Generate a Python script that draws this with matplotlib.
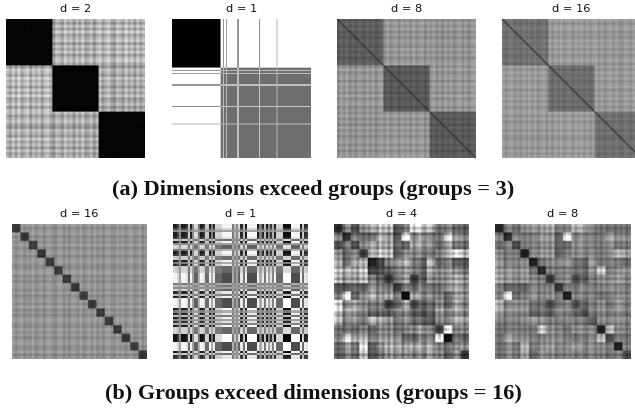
# Group similarity matrices, d = embedding size
import numpy as np
import matplotlib
matplotlib.use('Agg')
import matplotlib.pyplot as plt

# 3 groups, block levels (0 black - 255 white)
top_d2_blocks = [[5, 172, 178], [178, 5, 168], [172, 168, 5]]
top_d8_blocks = [[92, 148, 145], [148, 88, 148], [145, 148, 88]]
top_d16_blocks = [[112, 152, 150], [152, 108, 152], [150, 152, 110]]
top_d8_diag = 45
top_d16_diag = 40

# plaid stripes along the rows
top_d2_stripes = [.05, -.12, .1, -.08, .14, -.1, .02, .12, -.14, .08, -.05, .1, -.12, .06, .12, -.06,
                  -.14, .1, .04, -.1, .14, -.02, .08, -.12, .1, -.06, .14, -.1, -.03, .1, -.14, .06,
                  .1, -.1, .04, .12, -.08, -.14, .1, .02, -.1, .14, -.05, .08, -.12, .1, -.08, .04]
top_d8_stripes = [-.06, .07, -.03, .08, -.07, .04, -.08, .06, .01, -.07, .08, -.04, .06, -.08, .03, .07,
                  -.05, .08, -.07, .02, .06, -.08, .07, -.03, .05, -.07, .08, -.06, .03, .07, -.08, .04,
                  -.02, .08, -.06, .05, -.08, .07, -.04, .06, -.07, .03, .08, -.05, .06, -.08, .04, .07]
top_d16_stripes = [.05, -.06, .03, .06, -.05, .02, -.06, .05, -.02, .06, -.04, .05, -.06, .01, .06, -.05,
                   .04, -.06, .05, -.03, .06, -.05, .02, .05, -.06, .04, -.02, .06, -.05, .05, -.06, .03,
                   .06, -.04, .05, -.06, .02, .05, -.05, .06, -.03, -.06, .05, .02, -.05, .06, -.04, .05]

# 1-d embeddings, the d = 1 matrices are their outer products
top_d1_embed = [1.0] * 33 + [.3, -.61, .15, -.61, .1] + [-.61] * 7 + [.15] + [-.61] * 14 + [.2] \
    + [-.61] * 11 + [-.25] + [-.61] * 23
bot_d1_embed = [.9, .9, .6, .1, .9, .9, .7, -.4, .9, .1, -.5, -.5, .3, .9, .7, -.4,
                -.4, .9, .2, .8, -.45, -.45, -.45, -.7, -.7, -.7, -.7, -.7, .2, -.3, .1, -.5,
                .8, -.3, .9, -.7, -.7, -.7, -.7, -.7, .9, .2, .8, -.3, .9, .1, .7, -.2,
                .9, -.45, -.45, -.45, 1.0, 1.0, 1.0, 1.0, -.7, -.7, -.7, -.7, .9, -.4, .8, .7]

# 16 groups, upper triangle of the block levels
bot_d16_diag = [55, 50, 60, 50, 55, 55, 60, 50, 60, 55, 60, 55, 55, 55, 60, 55]
bot_d16_off = 145
bot_d4_upper = [
    [40, 120, 80, 130, 165, 180, 175, 80, 120, 210, 190, 180, 100, 120, 100, 90],
    [40, 120, 90, 100, 160, 140, 75, 235, 120, 140, 120, 100, 195, 140, 120],
    [85, 130, 170, 170, 160, 100, 105, 160, 160, 150, 100, 160, 120, 110],
    [50, 160, 180, 170, 80, 130, 120, 120, 110, 110, 160, 220, 170],
    [30, 65, 120, 140, 180, 120, 100, 180, 90, 120, 90, 80],
    [75, 90, 120, 150, 120, 100, 160, 120, 140, 140, 110],
    [50, 110, 160, 55, 90, 140, 120, 140, 170, 140],
    [55, 120, 90, 120, 110, 100, 130, 160, 130],
    [15, 160, 140, 140, 120, 100, 160, 140],
    [65, 90, 100, 120, 90, 160, 120],
    [85, 100, 140, 120, 160, 130],
    [85, 120, 120, 170, 150],
    [55, 220, 120, 120],
    [15, 110, 90],
    [140, 140],
    [50],
]
bot_d8_upper = [
    [35, 120, 110, 130, 150, 150, 160, 120, 130, 170, 160, 130, 110, 110, 110, 110],
    [40, 130, 110, 120, 140, 140, 90, 230, 120, 130, 120, 110, 150, 130, 130],
    [75, 120, 130, 140, 140, 100, 110, 140, 140, 130, 120, 140, 120, 120],
    [25, 130, 140, 140, 90, 120, 130, 130, 130, 110, 130, 170, 150],
    [30, 110, 130, 130, 150, 110, 100, 150, 110, 120, 120, 100],
    [40, 120, 120, 130, 110, 110, 140, 190, 120, 140, 140],
    [50, 120, 140, 70, 90, 120, 130, 130, 150, 130],
    [50, 120, 110, 130, 120, 120, 130, 130, 120],
    [30, 130, 130, 130, 110, 120, 140, 130],
    [75, 100, 120, 130, 110, 150, 120],
    [80, 120, 130, 120, 140, 120],
    [90, 130, 130, 140, 130],
    [30, 170, 130, 120],
    [70, 120, 110],
    [30, 130],
    [70],
]
bot_d16_stripes = [.06, -.05, .02, .07, -.07, .03, -.04, .08, -.06, .01, .06, -.08, .04, .07, -.03, -.07,
                   .05, .08, -.06, .02, -.08, .06, .03, -.05, .07, -.07, .01, .06, -.04, .08, -.06, .03,
                   -.08, .05, .07, -.03, -.06, .08, -.02, .05, -.07, .04, .08, -.05, -.02, .07, -.08, .03]
bot_d4_stripes = [.16, -.13, .08, -.2, .13, .2, -.1, .05, -.18, .16, -.06, .2, -.16, .1, .03, -.2,
                  .18, -.08, .13, -.16, .2, -.13, .05, .16, -.2, .1, -.05, .18, -.16, .08, .2, -.1,
                  -.18, .13, .06, -.2, .16, -.09, .2, -.13, .04, .18, -.17, .1, -.06, .16, -.2, .08]
bot_d8_stripes = [.11, -.09, .05, -.14, .09, .15, -.07, .04, -.14, .11, -.04, .14, -.11, .07, .03, -.15,
                  .12, -.05, .09, -.11, .15, -.09, .04, .11, -.14, .07, -.04, .12, -.11, .05, .15, -.07,
                  -.14, .09, .04, -.15, .11, -.07, .14, -.09, .03, .12, -.12, .07, -.04, .11, -.14, .05]

top_titles = ['d = 2', 'd = 1', 'd = 8', 'd = 16']
bot_titles = ['d = 16', 'd = 1', 'd = 4', 'd = 8']
top_caption = '(a) Dimensions exceed groups (groups = 3)'
bot_caption = '(b) Groups exceed dimensions (groups = 16)'

N = 96
W, H = 635, 411


def upper_to_full(rows):
    m = np.zeros((16, 16))
    for i, row in enumerate(rows):
        m[i, i:] = row
        m[i:, i] = row
    return m


def plaid(blocks, stripes, diag=None):
    blocks = np.array(blocks, dtype=float)
    k = N // len(blocks)
    m = np.kron(blocks, np.ones((k, k)))
    s = np.repeat(stripes, 2)
    m = m * (1 + s[:, None] + s[None, :])
    if diag is not None:
        np.fill_diagonal(m, diag)
    return m


def embed_matrix(x):
    x = np.array(x)
    return np.outer(x, x)


def panel(x0, y0, size, m, title, vmin=0, vmax=255, cmap='gray', interp='bilinear'):
    # x0, y0 are the top left corner in pixels
    ax = fig.add_axes([x0 / W, 1 - (y0 + size) / H, size / W, size / H])
    ax.imshow(m, cmap=cmap, vmin=vmin, vmax=vmax, interpolation=interp, aspect='auto')
    ax.axis('off')
    ax.set_title(title, fontsize=8.2, pad=5.4, color='#111111')


fig = plt.figure(figsize=(W / 100, H / 100), dpi=100)

top_x = [6, 172, 337, 502]
bot_x = [12, 173, 334, 495]

panel(top_x[0], 19, 139, plaid(top_d2_blocks, top_d2_stripes), top_titles[0])
panel(top_x[1], 19, 139, embed_matrix(top_d1_embed), top_titles[1],
      vmin=-.45, vmax=1, cmap='gray_r', interp='nearest')
panel(top_x[2], 19, 139, plaid(top_d8_blocks, top_d8_stripes, top_d8_diag), top_titles[2])
panel(top_x[3], 19, 139, plaid(top_d16_blocks, top_d16_stripes, top_d16_diag), top_titles[3])

d16_blocks = np.full((16, 16), float(bot_d16_off))
np.fill_diagonal(d16_blocks, bot_d16_diag)
panel(bot_x[0], 224, 135, plaid(d16_blocks, bot_d16_stripes), bot_titles[0])
panel(bot_x[1], 224, 135, embed_matrix(bot_d1_embed), bot_titles[1],
      vmin=-.7, vmax=1, cmap='gray_r', interp='nearest')
panel(bot_x[2], 224, 135, plaid(upper_to_full(bot_d4_upper), bot_d4_stripes), bot_titles[2])
panel(bot_x[3], 224, 135, plaid(upper_to_full(bot_d8_upper), bot_d8_stripes), bot_titles[3])

fig.text(313.5 / W, 1 - 190 / H, top_caption, ha='center', va='center', fontsize=16,
         family='Liberation Serif', weight='bold', color='#111111')
fig.text(313 / W, 1 - 394 / H, bot_caption, ha='center', va='center', fontsize=16,
         family='Liberation Serif', weight='bold', color='#111111')

fig.savefig('out.png', dpi=100)
